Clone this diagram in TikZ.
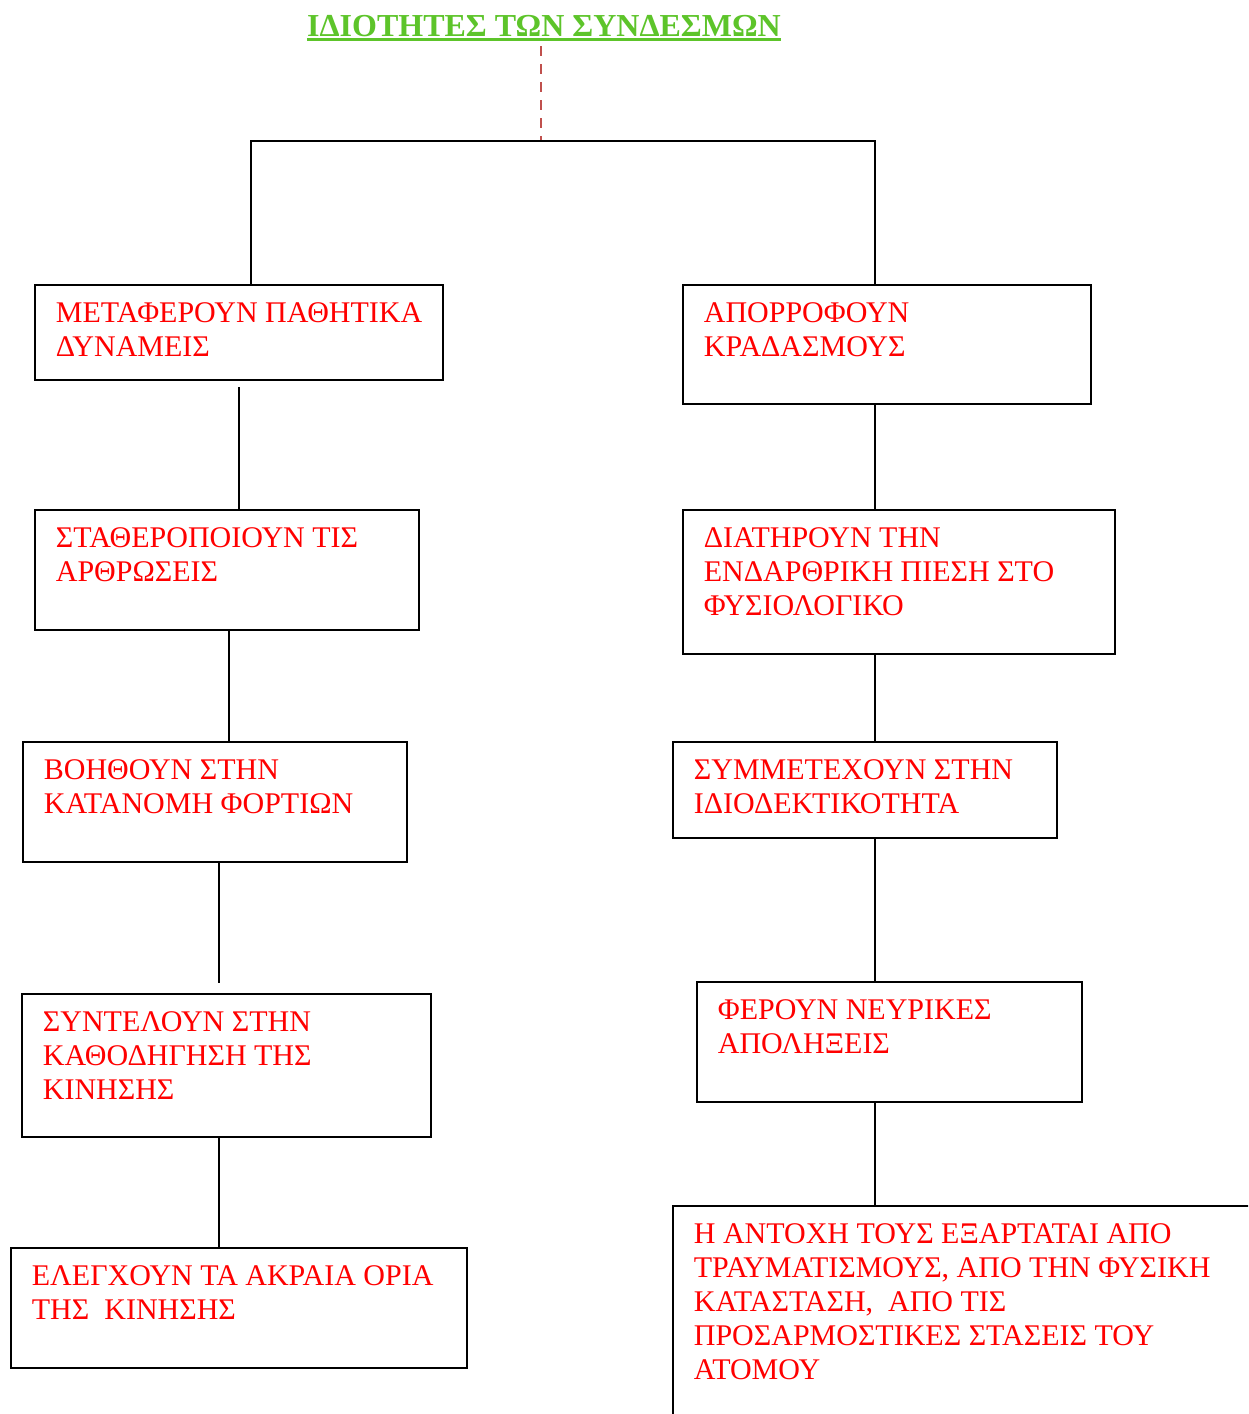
\documentclass[tikz,border=0pt]{standalone}
\usepackage{fontspec}
\setmainfont{Liberation Serif}
\definecolor{titlegreen}{RGB}{93,196,42}
\definecolor{boxred}{RGB}{255,0,0}
\definecolor{dashred}{RGB}{192,80,77}

\begin{document}
\begin{tikzpicture}[x=0.5pt,y=-0.5pt,
  frame/.style={draw=black, line width=1pt, rectangle, inner sep=0pt, outer sep=0pt, anchor=north west},
  label text/.style={text=boxred, font=\fontsize{15}{17}\selectfont, align=left, inner sep=0pt, anchor=north west},
  link/.style={draw=black, line width=1pt},
  guide/.style={draw=dashred, line width=1pt, dash pattern=on 5pt off 4pt}]
\path[use as bounding box, clip] (0,0) rectangle (1248,1414);

% title
\node[inner sep=0pt, anchor=base, text=titlegreen, font=\bfseries\fontsize{16}{19}\selectfont] (title) at (544,36) {ΙΔΙΟΤΗΤΕΣ ΤΩΝ ΣΥΝΔΕΣΜΩΝ};
\draw[titlegreen, line width=1.3pt] ([yshift=-1.8pt]title.base west) -- ([yshift=-1.8pt]title.base east);

% left column
\node[frame, minimum width=204pt, minimum height=47.5pt] (b1) at (35,285) {};
\node[label text] (b1t) at ([shift={(20.5,17)}]b1.north west) {ΜΕΤΑΦΕΡΟΥΝ ΠΑΘΗΤΙΚΑ\\ΔΥΝΑΜΕΙΣ};
\node[frame, minimum width=192pt, minimum height=60pt] (b2) at (35,510) {};
\node[label text] (b2t) at ([shift={(20.5,17)}]b2.north west) {ΣΤΑΘΕΡΟΠΟΙΟΥΝ ΤΙΣ\\ΑΡΘΡΩΣΕΙΣ};
\node[frame, minimum width=192pt, minimum height=60pt] (b3) at (23,742) {};
\node[label text] (b3t) at ([shift={(20.5,17)}]b3.north west) {ΒΟΗΘΟΥΝ ΣΤΗΝ\\ΚΑΤΑΝΟΜΗ ΦΟΡΤΙΩΝ};
\node[frame, minimum width=204.5pt, minimum height=71.5pt] (b4) at (22,994) {};
\node[label text] (b4t) at ([shift={(20.5,17)}]b4.north west) {ΣΥΝΤΕΛΟΥΝ ΣΤΗΝ\\ΚΑΘΟΔΗΓΗΣΗ ΤΗΣ\\ΚΙΝΗΣΗΣ};
\node[frame, minimum width=228pt, minimum height=60pt] (b5) at (11,1248) {};
\node[label text] (b5t) at ([shift={(20.5,17)}]b5.north west) {ΕΛΕΓΧΟΥΝ ΤΑ ΑΚΡΑΙΑ ΟΡΙΑ\\ΤΗΣ\ \ ΚΙΝΗΣΗΣ};

% right column
\node[frame, minimum width=204pt, minimum height=59.5pt] (r1) at (683,285) {};
\node[label text] (r1t) at ([shift={(20.5,17)}]r1.north west) {ΑΠΟΡΡΟΦΟΥΝ\\ΚΡΑΔΑΣΜΟΥΣ};
\node[frame, minimum width=216pt, minimum height=72pt] (r2) at (683,510) {};
\node[label text] (r2t) at ([shift={(20.5,17)}]r2.north west) {ΔΙΑΤΗΡΟΥΝ ΤΗΝ\\ΕΝΔΑΡΘΡΙΚΗ ΠΙΕΣΗ ΣΤΟ\\ΦΥΣΙΟΛΟΓΙΚΟ};
\node[frame, minimum width=192pt, minimum height=48pt] (r3) at (673,742) {};
\node[label text] (r3t) at ([shift={(20.5,17)}]r3.north west) {ΣΥΜΜΕΤΕΧΟΥΝ ΣΤΗΝ\\ΙΔΙΟΔΕΚΤΙΚΟΤΗΤΑ};
\node[frame, minimum width=192.5pt, minimum height=60pt] (r4) at (697,982) {};
\node[label text] (r4t) at ([shift={(20.5,17)}]r4.north west) {ΦΕΡΟΥΝ ΝΕΥΡΙΚΕΣ\\ΑΠΟΛΗΞΕΙΣ};
\node[frame, minimum width=350pt, minimum height=150pt] (r5) at (673,1206) {};
\node[label text] (r5t) at ([shift={(20.5,17)}]r5.north west) {Η ΑΝΤΟΧΗ ΤΟΥΣ ΕΞΑΡΤΑΤΑΙ ΑΠΟ\\ΤΡΑΥΜΑΤΙΣΜΟΥΣ, ΑΠΟ ΤΗΝ ΦΥΣΙΚΗ\\ΚΑΤΑΣΤΑΣΗ,\ \ ΑΠΟ ΤΙΣ\\ΠΡΟΣΑΡΜΟΣΤΙΚΕΣ ΣΤΑΣΕΙΣ ΤΟΥ\\ΑΤΟΜΟΥ};

% branching points
\coordinate (split) at (541,141);
\coordinate (dtop) at (541,46);
\coordinate (lc) at (251,141);
\coordinate (rc) at (875,141);
\coordinate (c2) at (229,0);
\coordinate (c3) at (219,0);

% title guide and top split
\draw[guide] (dtop) -- (split);
\draw[link] (b1.north -| lc) -- (lc) -- (rc) -- (r1.north -| rc);

% left chain
\draw[link] ([yshift=-3.5pt]b1.south) -- (b2.north -| b1.south);
\draw[link] (b2.south -| c2) -- (b3.north -| c2);
\draw[link] (b3.south -| c3) -- ([yshift=5.5pt]b4.north -| c3);
\draw[link] (b4.south -| c3) -- (b5.north -| c3);

% right chain
\draw[link] (r1.south -| rc) -- (r2.north -| rc);
\draw[link] (r2.south -| rc) -- (r3.north -| rc);
\draw[link] (r3.south -| rc) -- (r4.north -| rc);
\draw[link] (r4.south -| rc) -- (r5.north -| rc);
\end{tikzpicture}
\end{document}
